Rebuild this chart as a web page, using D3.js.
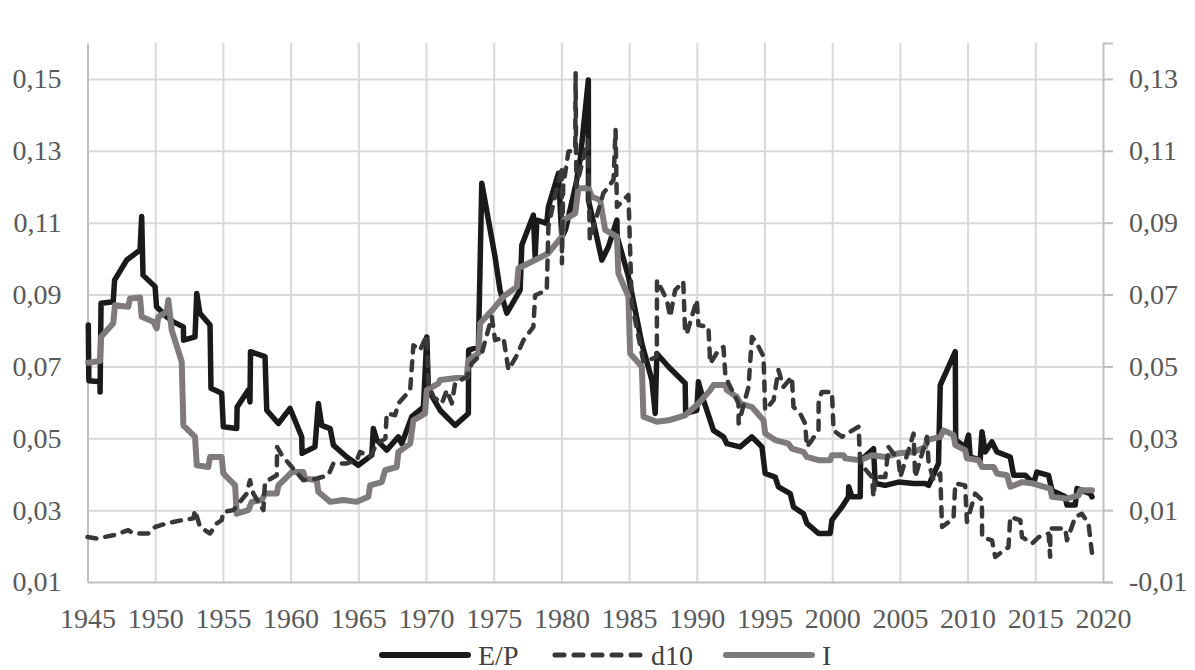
<!DOCTYPE html>
<html>
<head>
<meta charset="utf-8">
<script src="https://cdn.jsdelivr.net/npm/d3@7"></script>
<style>
  body { margin: 0; background: #ffffff; }
  text { font-family: "Liberation Serif", "Times New Roman", serif; }
</style>
</head>
<body>
<div id="chart"></div>
<script>

// E/P (left axis)
var epYears = [1945.06, 1945.1, 1945.92, 1945.93, 1946.0, 1946.9, 1947.0, 1947.9, 1948.88, 1949.0, 1949.1, 1949.99,
  1950.1, 1950.85, 1951.34, 1952.08, 1952.1, 1952.94, 1953.07, 1953.3, 1954.05, 1954.12, 1954.91, 1955.03,
  1956.02, 1956.05, 1956.88, 1957.0, 1957.04, 1958.11, 1958.24, 1959.1, 1959.96, 1960.82, 1960.85, 1961.8,
  1962.05, 1962.3, 1962.92, 1963.16, 1964.15, 1965.0, 1966.0, 1966.11, 1966.37, 1967.1, 1967.96, 1968.21,
  1968.95, 1969.81, 1970.06, 1970.18, 1971.04, 1972.15, 1973.13, 1973.15, 1973.87, 1974.12, 1975.1, 1975.47,
  1975.97, 1976.95, 1977.08, 1977.93, 1978.06, 1978.19, 1978.92, 1979.04, 1979.78, 1980.03, 1980.3, 1981.09,
  1981.4, 1981.99, 1982.0, 1982.99, 1983.47, 1984.1, 1984.12, 1984.95, 1985.94, 1986.68, 1986.93, 1987.05,
  1987.91, 1989.14, 1989.18, 1990.0, 1990.12, 1990.49, 1990.99, 1991.23, 1991.97, 1992.22, 1993.2, 1994.07,
  1994.81, 1995.05, 1995.79, 1996.03, 1996.9, 1997.14, 1997.88, 1998.13, 1998.99, 1999.85, 1999.98, 2000.72,
  2001.2, 2001.22, 2001.46, 2002.07, 2002.1, 2003.05, 2003.18, 2003.92, 2004.9, 2006.01, 2006.87, 2007.12,
  2007.85, 2007.98, 2009.09, 2009.12, 2009.82, 2010.07, 2010.19, 2010.93, 2011.06, 2011.3, 2011.8, 2012.17,
  2013.15, 2013.4, 2014.26, 2014.87, 2015.12, 2015.98, 2016.23, 2017.21, 2017.34, 2017.95, 2018.08, 2019.06, 2019.19];
var epValues = [0.0815, 0.066, 0.0657, 0.0629, 0.0876, 0.088, 0.094, 0.0996, 0.1024, 0.1117, 0.0954, 0.0922,
  0.0866, 0.0838, 0.0824, 0.081, 0.0773, 0.0782, 0.0903, 0.0848, 0.0815, 0.0639, 0.0625, 0.0532,
  0.0527, 0.0587, 0.0634, 0.0601, 0.0741, 0.0727, 0.0578, 0.0541, 0.0583, 0.0504, 0.0458, 0.0476,
  0.0597, 0.0536, 0.0527, 0.0481, 0.0448, 0.0425, 0.0453, 0.0527, 0.0495, 0.0467, 0.0504, 0.0485,
  0.056, 0.0587, 0.0782, 0.0634, 0.0578, 0.0536, 0.0569, 0.0745, 0.0754, 0.121, 0.1005, 0.0912,
  0.0848, 0.0912, 0.1038, 0.1121, 0.1005, 0.1107, 0.1098, 0.1144, 0.1237, 0.106, 0.108, 0.121,
  0.128, 0.1497, 0.1163, 0.0996, 0.1033, 0.1107, 0.1061, 0.095, 0.0764, 0.0662, 0.0569, 0.0736,
  0.0699, 0.0653, 0.0569, 0.0578, 0.0657, 0.0606, 0.055, 0.0522, 0.0504, 0.0485, 0.0476, 0.0504,
  0.0476, 0.0402, 0.0392, 0.0365, 0.0346, 0.0309, 0.029, 0.0263, 0.0235, 0.0235, 0.0272, 0.0309,
  0.0337, 0.0365, 0.0337, 0.0337, 0.0439, 0.0471, 0.0374, 0.0369, 0.0378, 0.0374, 0.0374, 0.0369,
  0.043, 0.0648, 0.0741, 0.0495, 0.0476, 0.0509, 0.0448, 0.0439, 0.0518, 0.0462, 0.049, 0.0462,
  0.0448, 0.0397, 0.0397, 0.0374, 0.0406, 0.0397, 0.0355, 0.0337, 0.0314, 0.0314, 0.036, 0.0346, 0.0337];

// d10 (right axis)
var d10Years = [1945.0, 1945.68, 1946.9, 1948.01, 1948.38, 1949.49, 1949.99, 1950.85, 1951.96, 1952.82, 1952.94, 1953.31,
  1954.05, 1954.54, 1954.91, 1955.03, 1955.77, 1956.76, 1957.0, 1957.25, 1957.99, 1958.11, 1958.98, 1959.0,
  1959.35, 1960.09, 1960.94, 1961.93, 1962.79, 1963.16, 1964.15, 1964.89, 1965.13, 1965.87, 1966.37, 1967.0,
  1967.1, 1967.72, 1967.96, 1968.83, 1969.07, 1969.56, 1970.06, 1970.18, 1970.55, 1971.17, 1971.54, 1971.91,
  1972.15, 1973.01, 1973.38, 1974.12, 1974.86, 1975.1, 1975.72, 1976.09, 1976.71, 1977.2, 1977.93, 1978.06,
  1978.92, 1979.04, 1979.41, 1980.03, 1980.04, 1980.13, 1980.52, 1981.02, 1981.05, 1981.1, 1981.95, 1982.1,
  1983.1, 1983.85, 1984.0, 1984.1, 1984.95, 1985.2, 1986.06, 1986.43, 1987.05, 1987.06, 1987.79, 1988.03,
  1988.4, 1989.0, 1989.14, 1989.27, 1990.0, 1990.12, 1990.86, 1990.99, 1991.6, 1991.97, 1992.1, 1992.34,
  1993.08, 1993.09, 1993.82, 1994.07, 1994.44, 1994.93, 1995.05, 1995.67, 1996.03, 1996.4, 1997.02, 1997.14,
  1997.63, 1998.0, 1998.13, 1998.5, 1998.99, 1999.0, 1999.24, 1999.98, 2000.1, 2000.72, 2001.09, 2001.95,
  2002.07, 2002.94, 2003.05, 2003.18, 2003.92, 2004.16, 2004.9, 2005.03, 2006.01, 2006.13, 2007.0, 2007.12,
  2007.49, 2007.98, 2008.11, 2008.96, 2009.09, 2009.82, 2009.95, 2010.56, 2011.06, 2011.07, 2011.8, 2012.04,
  2013.02, 2013.15, 2013.89, 2014.02, 2014.76, 2015.25, 2015.98, 2016.1, 2016.11, 2017.21, 2017.34, 2017.95,
  2018.44, 2018.93, 2019.19];
var d10Values = [0.0025, 0.0021, 0.003, 0.0044, 0.0035, 0.0035, 0.0053, 0.0063, 0.0072, 0.0077, 0.01, 0.0053,
  0.0035, 0.0063, 0.0072, 0.0095, 0.01, 0.0146, 0.0183, 0.0146, 0.01, 0.0178, 0.0197, 0.0276,
  0.0253, 0.022, 0.0183, 0.0188, 0.0197, 0.023, 0.023, 0.0239, 0.0262, 0.0248, 0.0285, 0.0299,
  0.0369, 0.0364, 0.0397, 0.0434, 0.0559, 0.0545, 0.0587, 0.0453, 0.0415, 0.0397, 0.0434, 0.0397,
  0.0453, 0.0471, 0.0508, 0.0536, 0.0638, 0.0573, 0.058, 0.049, 0.0531, 0.0573, 0.061, 0.0698,
  0.0712, 0.0889, 0.0954, 0.1056, 0.0787, 0.1, 0.1098, 0.1102, 0.1316, 0.1, 0.113, 0.0852,
  0.0982, 0.1019, 0.1158, 0.0944, 0.0977, 0.0675, 0.0513, 0.0517, 0.0527, 0.074, 0.0685, 0.0638,
  0.0712, 0.0736, 0.0592, 0.0592, 0.0685, 0.0615, 0.061, 0.0508, 0.0545, 0.0554, 0.048, 0.0453,
  0.0397, 0.0341, 0.0443, 0.0582, 0.0564, 0.0527, 0.0378, 0.0406, 0.049, 0.0443, 0.0471, 0.0387,
  0.0369, 0.0341, 0.0276, 0.0295, 0.0322, 0.0406, 0.0429, 0.0429, 0.0322, 0.0304, 0.0313, 0.0332,
  0.023, 0.0192, 0.0137, 0.0192, 0.0192, 0.0276, 0.0239, 0.0192, 0.0313, 0.0192, 0.0304, 0.0233,
  0.0183, 0.0202, 0.0053, 0.0077, 0.0174, 0.0169, 0.0067, 0.0146, 0.0128, 0.0025, 0.0016, -0.003,
  -0.0003, 0.0081, 0.0072, 0.0025, 0.0007, 0.0025, 0.0035, -0.003, 0.0049, 0.0049, 0.0016, 0.0081,
  0.009, 0.0063, -0.0021];

// I (left axis)
var iYears = [1945.04, 1945.92, 1946.0, 1946.9, 1947.03, 1948.01, 1948.14, 1948.88, 1949.0, 1949.86, 1950.11, 1950.23,
  1950.85, 1950.97, 1951.22, 1951.96, 1952.08, 1952.94, 1953.07, 1953.92, 1954.05, 1954.91, 1955.03, 1955.9,
  1956.02, 1956.88, 1957.13, 1957.87, 1958.11, 1958.98, 1959.1, 1960.09, 1960.94, 1961.07, 1961.93, 1962.05,
  1962.92, 1963.9, 1964.89, 1965.74, 1965.87, 1966.73, 1966.98, 1967.84, 1967.96, 1968.83, 1969.07, 1969.93,
  1970.06, 1970.92, 1971.04, 1973.01, 1973.13, 1973.87, 1974.0, 1974.98, 1975.72, 1976.71, 1976.83, 1978.06,
  1979.04, 1980.03, 1980.15, 1981.02, 1981.26, 1982.0, 1982.25, 1982.86, 1983.23, 1984.1, 1984.21, 1984.95,
  1985.08, 1985.94, 1986.06, 1987.05, 1987.91, 1989.14, 1990.12, 1990.99, 1991.23, 1992.1, 1992.22, 1992.96,
  1993.2, 1994.07, 1994.93, 1995.05, 1995.79, 1996.77, 1997.02, 1997.88, 1998.13, 1998.99, 1999.85, 1999.98,
  2000.84, 2000.96, 2002.07, 2002.94, 2003.92, 2004.9, 2006.01, 2006.87, 2007.0, 2007.98, 2008.22, 2008.96,
  2009.09, 2009.82, 2009.95, 2010.81, 2011.06, 2011.92, 2012.17, 2012.91, 2013.15, 2014.02, 2014.87, 2016.1,
  2016.23, 2017.34, 2018.2, 2018.32, 2019.19];
var iValues = [0.071, 0.0715, 0.0782, 0.082, 0.087, 0.0866, 0.0889, 0.0892, 0.0838, 0.0824, 0.0806, 0.0838,
  0.0852, 0.0885, 0.0801, 0.0713, 0.0536, 0.0504, 0.0425, 0.042, 0.0448, 0.0448, 0.0402, 0.0369,
  0.029, 0.03, 0.0323, 0.0328, 0.0346, 0.0346, 0.0369, 0.0406, 0.0406, 0.0388, 0.0383, 0.0351,
  0.0323, 0.0328, 0.0323, 0.0337, 0.0369, 0.0378, 0.0411, 0.042, 0.0462, 0.0485, 0.055, 0.0569,
  0.0634, 0.0653, 0.0662, 0.0671, 0.0717, 0.0736, 0.082, 0.086, 0.0894, 0.0922, 0.0973, 0.0996,
  0.1015, 0.1061, 0.1107, 0.1126, 0.1196, 0.1196, 0.1172, 0.1163, 0.108, 0.1061, 0.0959, 0.0894,
  0.0736, 0.0699, 0.056, 0.0546, 0.055, 0.0564, 0.0597, 0.0634, 0.0648, 0.0648, 0.0634, 0.0615,
  0.0597, 0.0587, 0.055, 0.0513, 0.0495, 0.0485, 0.0471, 0.0462, 0.0448, 0.0439, 0.0439, 0.0453,
  0.0453, 0.0444, 0.0439, 0.0453, 0.0448, 0.0458, 0.0462, 0.0476, 0.0495, 0.0504, 0.0522, 0.0509,
  0.0481, 0.0467, 0.0444, 0.0439, 0.042, 0.042, 0.0402, 0.0397, 0.0365, 0.0378, 0.0374, 0.036,
  0.0337, 0.0332, 0.0341, 0.0355, 0.0355];

var xTicks = [1945, 1950, 1955, 1960, 1965, 1970, 1975, 1980, 1985, 1990, 1995, 2000, 2005, 2010, 2015, 2020];
var leftTicks = [0.01, 0.03, 0.05, 0.07, 0.09, 0.11, 0.13, 0.15];
var rightTicks = [-0.01, 0.01, 0.03, 0.05, 0.07, 0.09, 0.11, 0.13];
var legendNames = ["E/P", "d10", "I"];

var svgWidth = 1195;
var svgHeight = 670;
var margin = { top: 43, right: 92, bottom: 88, left: 87.5 };
var width = svgWidth - margin.left - margin.right;
var height = svgHeight - margin.top - margin.bottom;

var svg = d3.select("#chart")
  .append("svg")
  .attr("width", svgWidth)
  .attr("height", svgHeight)
  .style("background", "#ffffff");

var chartGroup = svg.append("g")
  .attr("transform", `translate(${margin.left}, ${margin.top})`);

var xScale = d3.scaleLinear().domain([1945, 2020]).range([0, width]);
var yLeft = d3.scaleLinear().domain([0.01, 0.16]).range([height, 0]);
var yRight = d3.scaleLinear().domain([-0.01, 0.14]).range([height, 0]);

// comma decimal labels
function fmt(v) {
  return d3.format(".2f")(v).replace("−", "-").replace(".", ",");
}

// gridlines
chartGroup.append("g")
  .attr("transform", `translate(0, ${height})`)
  .call(d3.axisBottom(xScale).tickValues(xTicks.slice(1, -1)).tickSize(-height).tickFormat(""))
  .call(g => g.select(".domain").remove())
  .selectAll("line").attr("stroke", "#d9d9d9").attr("stroke-width", 2);

chartGroup.append("g")
  .call(d3.axisLeft(yLeft).tickValues(leftTicks.slice(1)).tickSize(-width).tickFormat(""))
  .call(g => g.select(".domain").remove())
  .selectAll("line").attr("stroke", "#d9d9d9").attr("stroke-width", 2);

// bottom axis with year labels
var xAxis = chartGroup.append("g")
  .attr("transform", `translate(0, ${height})`)
  .call(d3.axisBottom(xScale).tickValues(xTicks).tickSize(0).tickPadding(26).tickFormat(d3.format("d")));
xAxis.select(".domain").attr("stroke", "#bfbfbf").attr("stroke-width", 2);
xAxis.selectAll("text").attr("font-size", "28px").attr("fill", "#595959");

// left axis
var leftAxis = chartGroup.append("g")
  .call(d3.axisLeft(yLeft).tickValues(leftTicks).tickSize(0).tickPadding(26).tickFormat(fmt));
leftAxis.select(".domain").attr("stroke", "#bfbfbf").attr("stroke-width", 2);
leftAxis.selectAll("text").attr("font-size", "28px").attr("fill", "#595959");

// right axis
var rightAxis = chartGroup.append("g")
  .attr("transform", `translate(${width}, 0)`)
  .call(d3.axisRight(yRight).tickValues(rightTicks).tickSize(10).tickPadding(16).tickFormat(fmt));
rightAxis.select(".domain").attr("stroke", "#bfbfbf").attr("stroke-width", 2);
rightAxis.selectAll("line").attr("stroke", "#bfbfbf").attr("stroke-width", 2);
rightAxis.selectAll("text").attr("font-size", "28px").attr("fill", "#595959");

// lines
var lineLeft = d3.line().x(d => xScale(d[0])).y(d => yLeft(d[1]));
var lineRight = d3.line().x(d => xScale(d[0])).y(d => yRight(d[1]));

var epData = epYears.map((y, i) => [y, epValues[i]]);
var d10Data = d10Years.map((y, i) => [y, d10Values[i]]);
var iData = iYears.map((y, i) => [y, iValues[i]]);

chartGroup.append("path")
  .datum(epData)
  .attr("d", lineLeft)
  .attr("fill", "none")
  .attr("stroke", "#1a1a1a")
  .attr("stroke-width", 5.5)
  .attr("stroke-linejoin", "round")
  .attr("stroke-linecap", "round");

chartGroup.append("path")
  .datum(iData)
  .attr("d", lineLeft)
  .attr("fill", "none")
  .attr("stroke", "#7f7b7b")
  .attr("stroke-width", 6)
  .attr("stroke-linejoin", "round")
  .attr("stroke-linecap", "round");

chartGroup.append("path")
  .datum(d10Data)
  .attr("d", lineRight)
  .attr("fill", "none")
  .attr("stroke", "#383838")
  .attr("stroke-width", 4.5)
  .attr("stroke-dasharray", "9,9")
  .attr("stroke-linejoin", "round")
  .attr("stroke-linecap", "round");

// legend
var legendX = [382, 555, 726];
var legendStyles = [
  { stroke: "#1a1a1a", width: 6, dash: null },
  { stroke: "#383838", width: 5, dash: "9,10" },
  { stroke: "#7f7b7b", width: 6, dash: null }
];
var legend = svg.append("g").attr("transform", "translate(0, 655)");
legendNames.forEach(function(name, i) {
  legend.append("line")
    .attr("x1", legendX[i]).attr("x2", legendX[i] + 86)
    .attr("y1", 0).attr("y2", 0)
    .attr("stroke", legendStyles[i].stroke)
    .attr("stroke-width", legendStyles[i].width)
    .attr("stroke-linecap", "round")
    .attr("stroke-dasharray", legendStyles[i].dash);
  legend.append("text")
    .attr("x", legendX[i] + 96)
    .attr("y", 10)
    .attr("font-size", "28px")
    .attr("fill", "#404040")
    .text(name);
});

</script>
</body>
</html>
